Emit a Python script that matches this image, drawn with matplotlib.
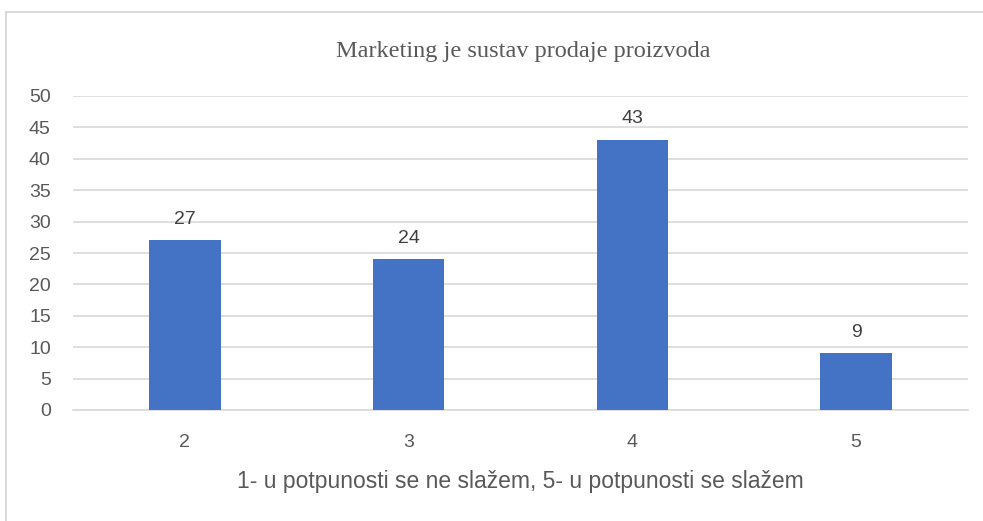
"""Excel-style bar chart: Marketing je sustav prodaje proizvoda."""

import matplotlib

matplotlib.use("Agg")
import matplotlib.pyplot as plt
from matplotlib.patches import Rectangle

categories = ["2", "3", "4", "5"]
counts = [27, 24, 43, 9]
y_ticks = [0, 5, 10, 15, 20, 25, 30, 35, 40, 45, 50]

TITLE = "Marketing je sustav prodaje proizvoda"
XLABEL = "1- u potpunosti se ne slažem, 5- u potpunosti se slažem"

BAR_COLOR = "#4472c4"
GRID_COLOR = "#d9d9d9"
TEXT_COLOR = "#595959"

W, H = 983, 521
fig = plt.figure(figsize=(W / 100, H / 100), dpi=100)
fig.patches.append(
    Rectangle((6 / W, -0.05), 1.1, 1 - 12 / H + 0.05, transform=fig.transFigure,
              fill=False, edgecolor=GRID_COLOR, linewidth=1.5)
)

ax = fig.add_axes([73 / W, 1 - 410 / H, 895 / W, 314 / H])
x = range(len(categories))
bars = ax.bar(x, counts, width=0.32, color=BAR_COLOR, zorder=3)
for rect, val in zip(bars, counts):
    ax.annotate(str(val), (rect.get_x() + rect.get_width() / 2, val),
                xytext=(0, 9), textcoords="offset points", ha="center", va="bottom",
                fontsize=14, color="#404040", family="Liberation Sans")

ax.set_xlim(-0.5, len(categories) - 0.5)
ax.set_ylim(0, 50)
ax.set_yticks(y_ticks)
ax.set_xticks(list(x))
ax.set_xticklabels(categories)
ax.yaxis.grid(True, color=GRID_COLOR, linewidth=1.2, zorder=0)
for side in ("top", "right", "left"):
    ax.spines[side].set_visible(False)
ax.spines["bottom"].set_color(GRID_COLOR)
ax.spines["bottom"].set_linewidth(1.2)
ax.tick_params(length=0, labelsize=14, labelcolor=TEXT_COLOR)
ax.tick_params(axis="y", pad=16)
ax.tick_params(axis="x", pad=17)
for lbl in ax.get_xticklabels() + ax.get_yticklabels():
    lbl.set_family("Liberation Sans")

ax.set_xlabel(XLABEL, fontsize=16.5, color=TEXT_COLOR, family="Liberation Sans", labelpad=14)
fig.text(523 / W, 1 - 51 / H, TITLE, ha="center", va="center", fontsize=17.5,
         color=TEXT_COLOR, family="Liberation Serif")

fig.savefig("out.png", dpi=100)
